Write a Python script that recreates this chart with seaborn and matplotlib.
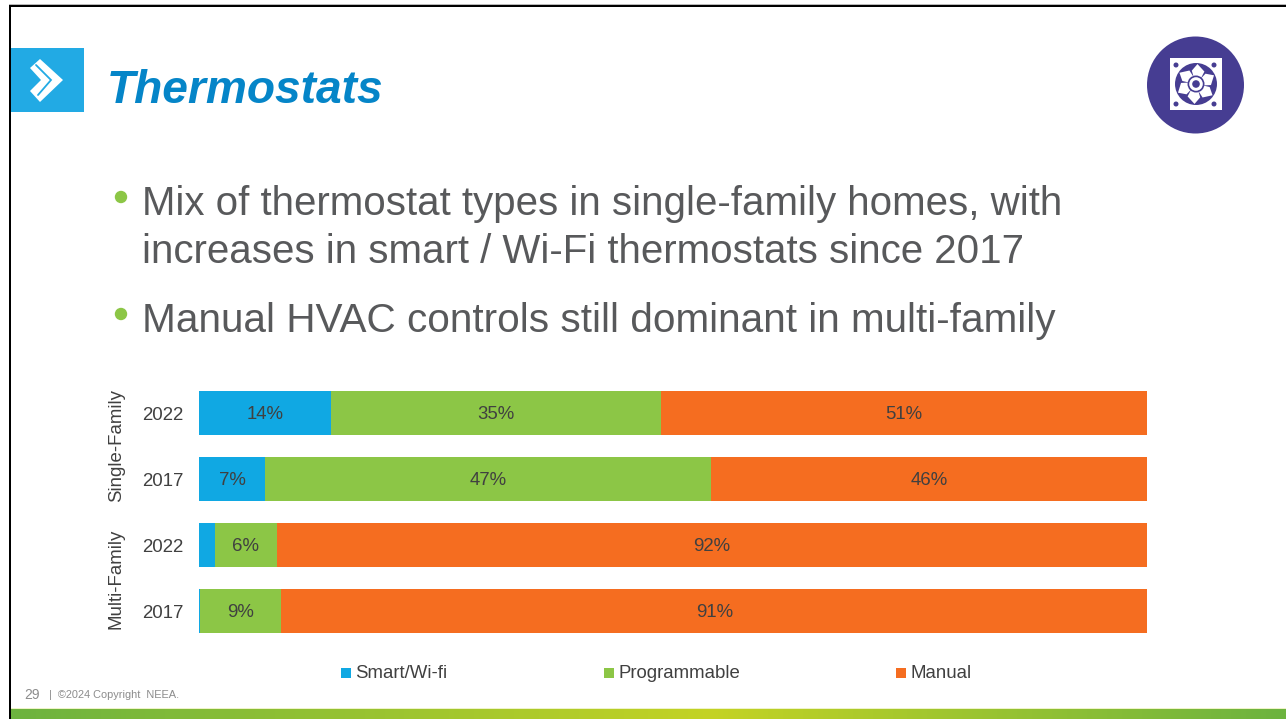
import matplotlib
matplotlib.use("Agg")
import matplotlib.pyplot as plt
from matplotlib.colors import LinearSegmentedColormap
from matplotlib.patches import Circle, Polygon, Rectangle
import numpy as np
import pandas as pd
import seaborn as sns

# data
rows = ["SF 2022", "SF 2017", "MF 2022", "MF 2017"]
years = ["2022", "2017", "2022", "2017"]
groups = ["Single-Family", "Multi-Family"]
series = ["Smart/Wi-fi", "Programmable", "Manual"]
smart = [13.9, 7.0, 1.7, 0.1]
programmable = [34.8, 47.0, 6.5, 8.6]
manual = [51.3, 46.0, 91.8, 91.3]
smart_labels = ["14%", "7%", "", ""]
programmable_labels = ["35%", "47%", "6%", "9%"]
manual_labels = ["51%", "46%", "92%", "91%"]

title = "Thermostats"
bullet_lines = [
    "Mix of thermostat types in single-family homes, with",
    "increases in smart / Wi-Fi thermostats since 2017",
    "Manual HVAC controls still dominant in multi-family",
]
footer = "|  ©2024 Copyright  NEEA."

colors = ["#10a8e3", "#8cc646", "#f56d20"]
text_col = "#404040"
W, H = 1286, 719

sns.set_theme(style="white")
plt.rcParams["font.family"] = ["Liberation Sans", "DejaVu Sans"]

fig = plt.figure(figsize=(W / 100, H / 100), dpi=100, facecolor="white")

# slide layer in pixel coordinates, y going down
bg = fig.add_axes([0, 0, 1, 1])
bg.axis("off")

bg.add_patch(Rectangle((9, 3.8), W, 1.2, color="#b8b8b8", lw=0))
bg.add_patch(Rectangle((9, 5), W, 2.4, color="black", lw=0))
bg.add_patch(Rectangle((9, 5), 2.4, H, color="black", lw=0))

# logo block
logo_col = "#22aae4"
bg.add_patch(Rectangle((11.4, 48), 72.6, 64, color=logo_col, lw=0))
bg.add_patch(Polygon([(30, 68), (40, 59), (63, 80), (40, 102), (30, 91), (41, 80)],
                     closed=True, color="white", lw=0))
bg.plot([36, 51, 38], [65, 80, 95], color=logo_col, lw=1.3, solid_joinstyle="miter")

bg.text(107, 103, title, fontsize=33.2, color="#0585c8", style="italic", weight="bold",
        ha="left", va="baseline")

# fan icon
purple = "#463d92"
bg.add_patch(Circle((1195.5, 85), 48.5, color=purple, lw=0))
bg.add_patch(Rectangle((1169.5, 58), 52, 51.5, color="white", lw=0))
for dx, dy in [(-20, -19), (18, -19), (-20, 20), (18, 20)]:
    bg.add_patch(Circle((1196 + dx, 84 + dy), 2.5, color=purple, lw=0))
bg.add_patch(Circle((1196, 84), 21, color=purple, lw=0))
for a in np.deg2rad([80, 140, 200, 260, 320, 20]):
    pts = []
    for r, off in [(6, -0.6), (15, -0.42), (20, 0.1), (14, 0.48), (6, 0.5)]:
        pts.append((1196 + r * np.cos(a + off), 84 - r * np.sin(a + off)))
    bg.add_patch(Polygon(pts, closed=True, color="white", lw=0))
bg.add_patch(Circle((1196, 84), 8.5, color=purple, lw=0))
bg.add_patch(Circle((1196, 84), 6.8, color="white", lw=0))
bg.add_patch(Circle((1196, 84), 3.8, color=purple, lw=0))

# bullets
for y in [197, 314]:
    bg.add_patch(Circle((121, y), 6.2, color="#8cc646", lw=0))
for y, line, fs in zip([215, 263, 332], bullet_lines, [28.97, 29.0, 29.2]):
    bg.text(142, y, line, fontsize=fs, color="#58595b", ha="left", va="baseline")

# footer
bg.text(24, 695, "29", fontsize=10, color="#8c8c8c", ha="left", va="center")
bg.text(49, 695, footer, fontsize=7.9, color="#8c8c8c", ha="left", va="center")
cmap = LinearSegmentedColormap.from_list("foot", [(0, "#6cb33f"), (0.55, "#c4d324"), (1, "#6cb33f")])
bg.imshow(np.linspace(0, 1, 256).reshape(1, -1), cmap=cmap, aspect="auto",
          extent=(11.4, W, H, 709), zorder=1)
bg.add_patch(Rectangle((11.4, 708), W, 1, color="#eef3c8", lw=0))
bg.set_xlim(0, W)
bg.set_ylim(H, 0)

# stacked bars: axes spans the four 66 px category slots
ax = fig.add_axes([199 / W, 1 - 644 / H, 948 / W, 264 / H])
ax.patch.set_alpha(0)
df = pd.DataFrame({"row": rows, "smart": smart, "programmable": programmable, "manual": manual})
left = np.zeros(len(rows))
for col, c, labels in zip(["smart", "programmable", "manual"], colors,
                          [smart_labels, programmable_labels, manual_labels]):
    sns.barplot(data=df, y="row", x=col, left=left, color=c, width=44 / 66, saturation=1,
                errorbar=None, orient="y", ax=ax, linewidth=0)
    for i, lab in enumerate(labels):
        ax.text(left[i] + df[col][i] / 2, i + 0.02, lab, fontsize=13.4, color=text_col,
                ha="center", va="center")
    left = left + df[col].to_numpy()

ax.set_xlim(0, 100)
ax.set_ylim(3.5, -0.5)
ax.set_xlabel("")
ax.set_ylabel("")
ax.set_xticks([])
ax.set_yticks(range(len(rows)))
ax.set_yticklabels(years, fontsize=13.4, color=text_col)
ax.tick_params(axis="y", length=0, pad=11.5)
sns.despine(ax=ax, left=True, bottom=True)

# group labels
bg.text(116.5, 446, groups[0], fontsize=13.4, color=text_col, rotation=90, ha="center", va="center")
bg.text(116.5, 578.5, groups[1], fontsize=13.4, color=text_col, rotation=90, ha="center", va="center")

# legend placed by hand, entries are spread wide on the slide
for x, name, c in zip([341, 604, 896], series, colors):
    bg.add_patch(Rectangle((x, 668), 10, 10, color=c, lw=0))
    bg.text(x + 14, 674, name, fontsize=13.4, color=text_col, ha="left", va="center")

fig.savefig("out.png", dpi=100)
